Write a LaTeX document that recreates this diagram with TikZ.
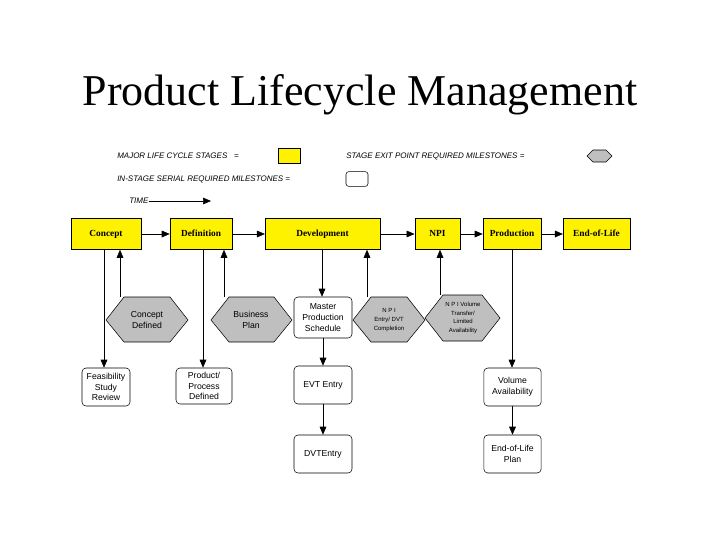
\documentclass[tikz,border=0pt]{standalone}
\usepackage{fontspec}
\setmainfont{Liberation Sans}
\newfontfamily\serif{Liberation Serif}
\usetikzlibrary{arrows.meta}
\begin{document}
\begin{tikzpicture}[x=0.75pt,y=-0.75pt,
 stage/.style={draw,fill=yellow,minimum height=23.25pt,inner sep=0pt,text height=5pt,text depth=1.5pt,font=\serif\bfseries\fontsize{7}{8}\selectfont},
 ms/.style={draw,rounded corners=3pt,fill=white,align=center,inner sep=0pt,font=\fontsize{6.5}{8}\selectfont},
 hexl/.style={align=center,inner sep=0pt,font=\fontsize{6.5}{8}\selectfont},
 hexs/.style={align=center,inner sep=0pt,font=\fontsize{4.5}{6.5}\selectfont},
 hexfill/.style={draw,fill=black!25},
 arr/.style={-{Triangle[length=6pt,width=5pt]}},
 leg/.style={font=\itshape\fontsize{6}{7}\selectfont,anchor=west,inner sep=0pt}]
\useasboundingbox (0,0) rectangle (720,540);
\node (title) at (360,95) {\serif\fontsize{33}{36}\selectfont Product Lifecycle Management};
% legend
\node[leg] (l1) at (117,156) {MAJOR LIFE CYCLE STAGES\ \ \ =};
\node[draw,fill=yellow,minimum width=16.5pt,minimum height=11pt,inner sep=0pt] (l1b) at (289,156) {};
\node[leg] (l2) at (346,156) {STAGE EXIT POINT REQUIRED MILESTONES =};
\draw[hexfill] (587,156)--(593,150)--(606,150)--(612,156)--(606,162)--(593,162)--cycle;
\node[leg] (l3) at (117,179) {IN-STAGE SERIAL REQUIRED MILESTONES =};
\node[draw,rounded corners=2pt,minimum width=16.5pt,minimum height=11pt,inner sep=0pt] (l3b) at (357,179) {};
\node[leg] (t) at (129,201) {TIME};
\coordinate (te) at (211,201);
\draw[arr] (t.east) -- (te);
% stages
\node[stage,minimum width=52.5pt] (c) at (106,234) {Concept};
\node[stage,minimum width=46.5pt] (d) at (201,234) {Definition};
\node[stage,minimum width=86pt] (dev) at (322.5,234) {Development};
\node[stage,minimum width=34pt] (npi) at (437.5,234) {NPI};
\node[stage,minimum width=43.5pt] (p) at (512,234) {Production};
\node[stage,minimum width=50pt] (e) at (596.5,234) {End-of-Life};
\foreach \a/\b in {c/d,d/dev,dev/npi,npi/p,p/e} \draw[arr] (\a) -- (\b);
% hexagons
\draw[hexfill] (106,320)--(124,297)--(170,297)--(188,320)--(170,342)--(124,342)--cycle;
\node[hexl,minimum width=61.5pt,minimum height=33.75pt] (h1) at (147,320) {Concept\\Defined};
\draw[hexfill] (211,320)--(229,297)--(274,297)--(292,320)--(274,342)--(229,342)--cycle;
\node[hexl,minimum width=61.5pt,minimum height=33.75pt] (h2) at (251,320) {Business\\Plan};
\draw[hexfill] (353,320)--(371,297)--(407,297)--(425,320)--(407,342)--(371,342)--cycle;
\node[hexs,minimum width=54pt,minimum height=33.75pt] (h3) at (389,320) {N P I\\Entry/ DVT\\Completion};
\draw[hexfill] (425,318)--(443,295)--(482,295)--(500,318)--(482,341)--(443,341)--cycle;
\node[hexs,minimum width=56pt,minimum height=34.5pt] (h4) at (463,318) {N P I Volume\\Transfer/\\Limited\\Availability};
% milestones
\node[ms,minimum width=43.5pt,minimum height=30.75pt] (mps) at (323,317.5) {Master\\Production\\Schedule};
\node[ms,minimum width=36pt,minimum height=28.5pt] (fs) at (106,387) {Feasibility\\Study\\Review};
\node[ms,minimum width=42pt,minimum height=27pt] (pp) at (204,386) {Product/\\Process\\Defined};
\node[ms,minimum width=43.5pt,minimum height=28.5pt] (evt) at (323,385) {EVT Entry};
\node[ms,minimum width=43.5pt,minimum height=28.5pt] (dvt) at (323,454) {DVTEntry};
\node[ms,minimum width=43pt,minimum height=28.5pt] (va) at (512.5,387) {Volume\\Availability};
\node[ms,minimum width=43pt,minimum height=28.5pt] (eol) at (512.5,454) {End-of-Life\\Plan};
% connectors
\draw[arr] (c.south -| 104,0) -- (fs.north -| 104,0);
\draw[arr] (h1.north -| 120,0) -- (c.south -| 120,0);
\draw[arr] (d.south -| 203,0) -- (pp.north -| 203,0);
\draw[arr] (h2.north -| 224,0) -- (d.south -| 224,0);
\draw[arr] (dev.south -| 322,0) -- (mps.north -| 322,0);
\draw[arr] (mps) -- (evt);
\draw[arr] (evt) -- (dvt);
\draw[arr] (h3.north -| 367,0) -- (dev.south -| 367,0);
\draw[arr] (h4.north -| 440,0) -- (npi.south -| 440,0);
\draw[arr] (p.south -| 512,0) -- (va.north -| 512,0);
\draw[arr] (va) -- (eol);
\end{tikzpicture}
\end{document}
